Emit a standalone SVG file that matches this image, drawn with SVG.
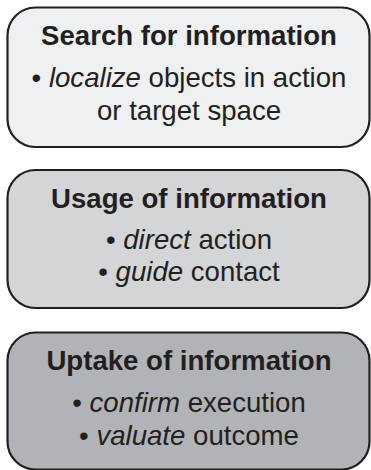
<svg xmlns="http://www.w3.org/2000/svg" width="371" height="470" viewBox="0 0 371 470">
<style>
.box{stroke:#231f20;stroke-width:2.2}
.t{font-family:"Liberation Sans",Arial,sans-serif;font-size:27.6px;fill:#231f20;text-anchor:middle}
.b{font-weight:bold}
.i{font-style:italic}
</style>
<rect width="371" height="470" fill="#ffffff"/>
<g id="search">
<rect class="box" x="7.5" y="7.5" width="362" height="139.5" rx="28" ry="28" fill="#eff0f2"/>
<text class="t b" x="189" y="44.5">Search for information</text>
<text class="t" x="189" y="86.5">• <tspan class="i">localize</tspan> objects in action</text>
<text class="t" x="189" y="119.5">or target space</text>
</g>
<g id="usage">
<rect class="box" x="7.5" y="170" width="362" height="138" rx="28" ry="28" fill="#d4d5d7"/>
<text class="t b" x="189" y="207.5">Usage of information</text>
<text class="t" x="189" y="248.5">• <tspan class="i">direct</tspan> action</text>
<text class="t" x="189" y="281">• <tspan class="i">guide</tspan> contact</text>
</g>
<g id="uptake">
<rect class="box" x="7.5" y="332.5" width="362" height="137" rx="28" ry="28" fill="#b1b3b6"/>
<text class="t b" x="189" y="370">Uptake of information</text>
<text class="t" x="189" y="411.5">• <tspan class="i">confirm</tspan> execution</text>
<text class="t" x="189" y="445">• <tspan class="i">valuate</tspan> outcome</text>
</g>
<g id="connectors"></g>
</svg>
